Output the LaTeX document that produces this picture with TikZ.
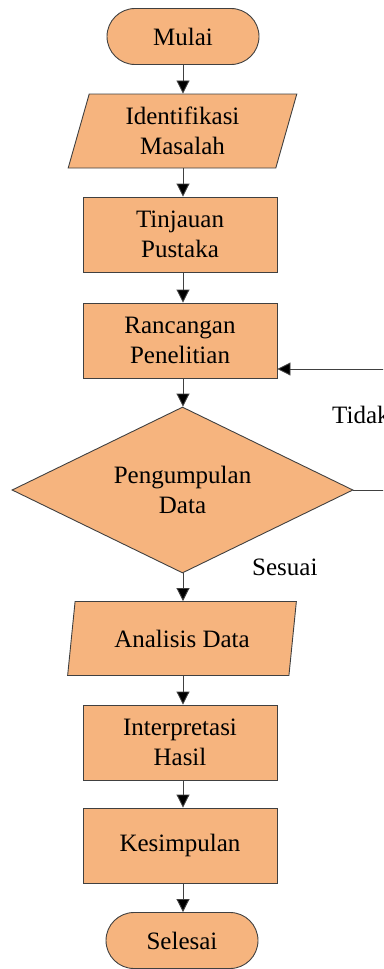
\documentclass[tikz,border=0pt]{standalone}
\usepackage{fontspec}
\setmainfont{Liberation Serif}
\usetikzlibrary{shapes.geometric,shapes.misc,arrows.meta,calc}
\definecolor{boxfill}{HTML}{F6B47E}
\definecolor{edge}{HTML}{404040}
\begin{document}
\begin{tikzpicture}[x=1pt,y=-1pt,
  base/.style={draw=edge,fill=boxfill,line width=0.9pt,align=center,inner sep=0pt,
    font=\fontsize{25}{30}\selectfont},
  term/.style={base,rounded rectangle,minimum width=152pt,minimum height=56pt},
  proc/.style={base,rectangle,minimum width=194pt,minimum height=75pt},
  io/.style={base,trapezium,trapezium left angle=75,trapezium right angle=105,
    trapezium stretches=true,minimum width=229pt,minimum height=74pt},
  dec/.style={base,diamond,shape aspect=2.05,minimum width=341pt,minimum height=166pt},
  arr/.style={draw=edge,line width=0.9pt,-{Triangle[width=13pt,length=13pt,fill=black]}},
  ln/.style={draw=edge,line width=0.9pt},
  lbl/.style={font=\fontsize{25}{30}\selectfont,inner sep=0pt,anchor=base west}]
\useasboundingbox (0,0) rectangle (383,969);
\clip (0,0) rectangle (383,969);
\node[term] (start) at (183,36.5) {Mulai};
\node[io] (ident) at (182.5,131) {Identifikasi\\Masalah};
\node[proc] (tinj) at (180,234.5) {Tinjauan\\Pustaka};
\node[proc] (ranc) at (180,340.5) {Rancangan\\Penelitian};
\node[dec] (peng) at (182.5,490) {Pengumpulan\\Data};
\node[io] (anal) at (182,638.5) {Analisis Data};
\node[proc] (intp) at (180,742.5) {Interpretasi\\Hasil};
\node[proc] (kes) at (180,845.5) {Kesimpulan};
\node[term] (end) at (182,940.5) {Selesai};
\coordinate (outA) at (400,490);
\coordinate (inA) at (400,369);
\draw[arr] (start.south) -- (start.south |- ident.north);
\draw[arr] (ident.south -| start.south) -- (start.south |- tinj.north);
\draw[arr] (tinj.south -| start.south) -- (start.south |- ranc.north);
\draw[arr] (ranc.south -| start.south) -- (start.south |- peng.north);
\draw[arr] (peng.south -| start.south) -- (start.south |- anal.north);
\draw[arr] (anal.south -| start.south) -- (start.south |- intp.north);
\draw[arr] (intp.south -| start.south) -- (start.south |- kes.north);
\draw[arr] (kes.south -| start.south) -- (start.south |- end.north);
\draw[ln] (peng.east) -- (outA);
\draw[arr] (inA) -- (inA -| ranc.east);
\node[lbl] (tidak) at (332,423) {Tidak};
\node[lbl] (sesuai) at (252,575) {Sesuai};
\end{tikzpicture}
\end{document}
